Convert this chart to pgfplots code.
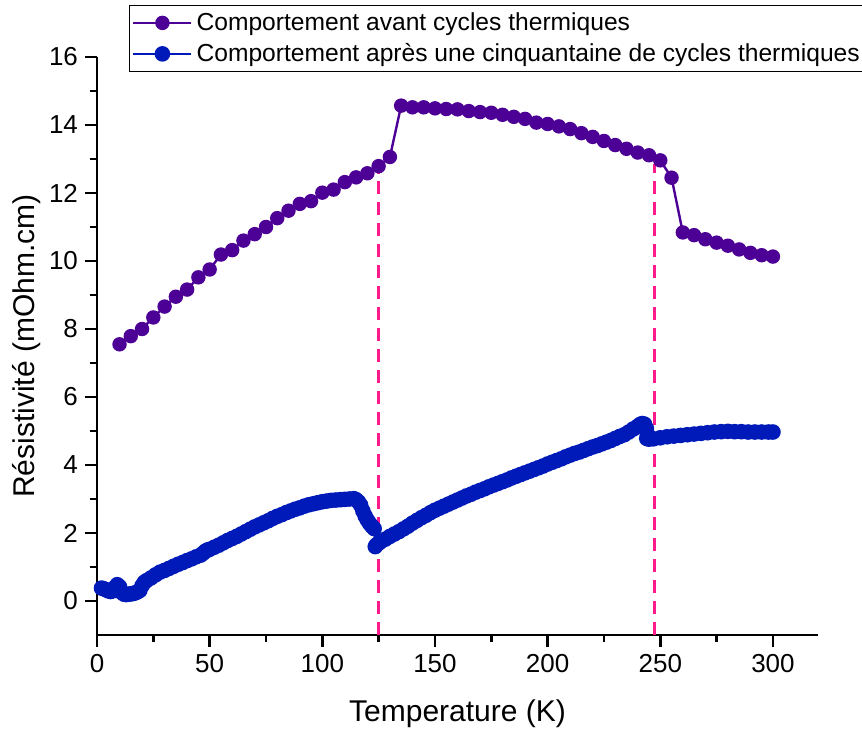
\documentclass[border=0pt]{standalone}
\usepackage{fontspec}
\setmainfont{Liberation Sans}
\usepackage{pgfplots}
\pgfplotsset{compat=1.18}
\definecolor{cpurple}{RGB}{76,0,150}
\definecolor{cblue}{RGB}{0,26,185}
\definecolor{cpink}{RGB}{255,26,140}
\begin{document}
\begin{tikzpicture}
\path[use as bounding box] (-48.5pt,-50pt) rectangle (382.5pt,317.5pt);
\begin{axis}[
  scale only axis, width=360.5pt, height=289pt,
  at={(0pt,0pt)}, anchor=south west,
  xmin=0, xmax=320, ymin=-1, ymax=16,
  axis lines*=left,
  axis line style={line width=1.4pt},
  tick align=outside,
  major tick length=6pt, minor tick length=3.5pt,
  tick style={black, line width=1.4pt},
  xtick={0,50,...,300}, ytick={0,2,...,16},
  minor x tick num=1, minor y tick num=1,
  tick label style={font=\fontsize{13}{15}\selectfont},
  /pgf/number format/assume math mode=true,
  label style={font=\fontsize{15}{18}\selectfont},
  xlabel={Temperature (K)}, ylabel={Résistivité (mOhm.cm)},
  xlabel style={yshift=-7pt},
  ylabel style={yshift=-2.5pt},
  legend style={at={(0.044,1.09)}, anchor=north west,
    font=\fontsize{12.3}{14}\selectfont, draw=black, line width=0.5pt,
    inner sep=1.5pt, row sep=1pt},
  legend cell align=left,
  legend image code/.code={\draw[mark repeat=2,mark phase=2] plot coordinates {(0pt,0pt) (14.5pt,0pt) (29pt,0pt)};},
  clip=false,
]
\addplot[cpurple, line width=1.2pt, mark=*, mark size=3pt, mark options={solid, fill=cpurple, draw=cpurple}] coordinates {
(10,7.55)(15,7.79)(20,8.00)(25,8.34)(30,8.66)(35,8.95)(40,9.16)(45,9.52)(50,9.75)
(55,10.19)(60,10.32)(65,10.60)(70,10.79)(75,11.00)(80,11.26)(85,11.48)(90,11.68)
(95,11.76)(100,12.01)(105,12.10)(110,12.32)(115,12.46)(120,12.58)(125,12.79)(130,13.06)
(135,14.57)(140,14.52)(145,14.52)(150,14.49)(155,14.47)(160,14.46)(165,14.41)(170,14.38)
(175,14.36)(180,14.30)(185,14.24)(190,14.18)(195,14.07)(200,14.03)(205,13.96)(210,13.88)
(215,13.76)(220,13.65)(225,13.53)(230,13.41)(235,13.30)(240,13.19)(245,13.11)(250,12.96)
(255,12.45)(260,10.84)(265,10.76)(270,10.64)(275,10.54)(280,10.45)(285,10.34)(290,10.24)
(295,10.17)(300,10.13)
};
\addlegendentry{Comportement avant cycles thermiques}
\addplot[cblue, line width=1pt, mark=*, mark size=3.4pt, mark options={solid, fill=cblue, draw=cblue}] coordinates {
(2,0.38)(3,0.36)(4,0.33)(5,0.30)(6,0.28)(7,0.30)(8,0.40)(9,0.48)(10,0.42)(11,0.25)
(12,0.20)(13,0.19)(14,0.20)(15,0.21)(16,0.22)(17,0.24)(18,0.27)(19,0.31)(20,0.45)
(21,0.55)(22,0.60)(24,0.68)(26,0.77)(28,0.85)(30,0.90)(32,0.96)(34,1.02)(36,1.08)
(38,1.13)(40,1.19)(42,1.24)(44,1.30)(46,1.35)(47,1.40)(48,1.46)(49,1.50)(50,1.52)
(52,1.58)(54,1.64)(56,1.71)(58,1.78)(60,1.84)(62,1.90)(64,1.97)(66,2.04)(68,2.11)
(70,2.18)(72,2.24)(74,2.30)(76,2.36)(78,2.43)(80,2.49)(82,2.54)(84,2.60)(86,2.65)
(88,2.70)(90,2.74)(92,2.79)(94,2.83)(96,2.86)(98,2.89)(100,2.92)(102,2.94)(104,2.96)
(106,2.97)(108,2.98)(110,2.99)(112,3.00)(114,3.01)(115,2.98)(116,2.92)(117,2.82)
(118,2.65)(119,2.50)(120,2.38)(121,2.28)(122,2.20)(123,2.13)(123.5,1.60)(124,1.65)
(125,1.70)(126,1.75)(128,1.82)(130,1.90)(132,1.97)(134,2.04)(136,2.12)(138,2.20)
(140,2.29)(142,2.37)(144,2.45)(146,2.52)(148,2.60)(150,2.67)(152,2.73)(154,2.79)
(156,2.85)(158,2.91)(160,2.97)(162,3.03)(164,3.09)(166,3.14)(168,3.20)(170,3.25)
(172,3.30)(174,3.36)(176,3.41)(178,3.46)(180,3.51)(182,3.56)(184,3.62)(186,3.67)
(188,3.72)(190,3.77)(192,3.82)(194,3.87)(196,3.92)(198,3.97)(200,4.03)(202,4.08)
(204,4.13)(206,4.18)(208,4.24)(210,4.29)(212,4.34)(214,4.38)(216,4.43)(218,4.48)
(220,4.53)(222,4.57)(224,4.62)(226,4.67)(228,4.72)(230,4.78)(232,4.84)(234,4.89)
(236,4.97)(238,5.06)(240,5.14)(241,5.19)(242,5.22)(243,5.20)(243.8,5.08)(244.2,4.92)
(244,4.78)(245,4.76)(247,4.77)(250,4.80)(253,4.83)(256,4.85)(259,4.87)(262,4.89)
(265,4.91)(268,4.93)(271,4.95)(274,4.97)(277,4.98)(280,4.99)(283,4.98)(286,4.98)
(289,4.97)(292,4.97)(295,4.97)(298,4.97)(300,4.97)
};
\addlegendentry{Comportement après une cinquantaine de cycles thermiques}
\addplot[cpink, line width=1.4pt, dash pattern=on 6.5pt off 4pt, forget plot] coordinates {(125,-1) (125,12.6)};
\addplot[cpink, line width=1.4pt, dash pattern=on 6.5pt off 4pt, forget plot] coordinates {(247.5,-1) (247.5,12.85)};
\end{axis}
\end{tikzpicture}
\end{document}
